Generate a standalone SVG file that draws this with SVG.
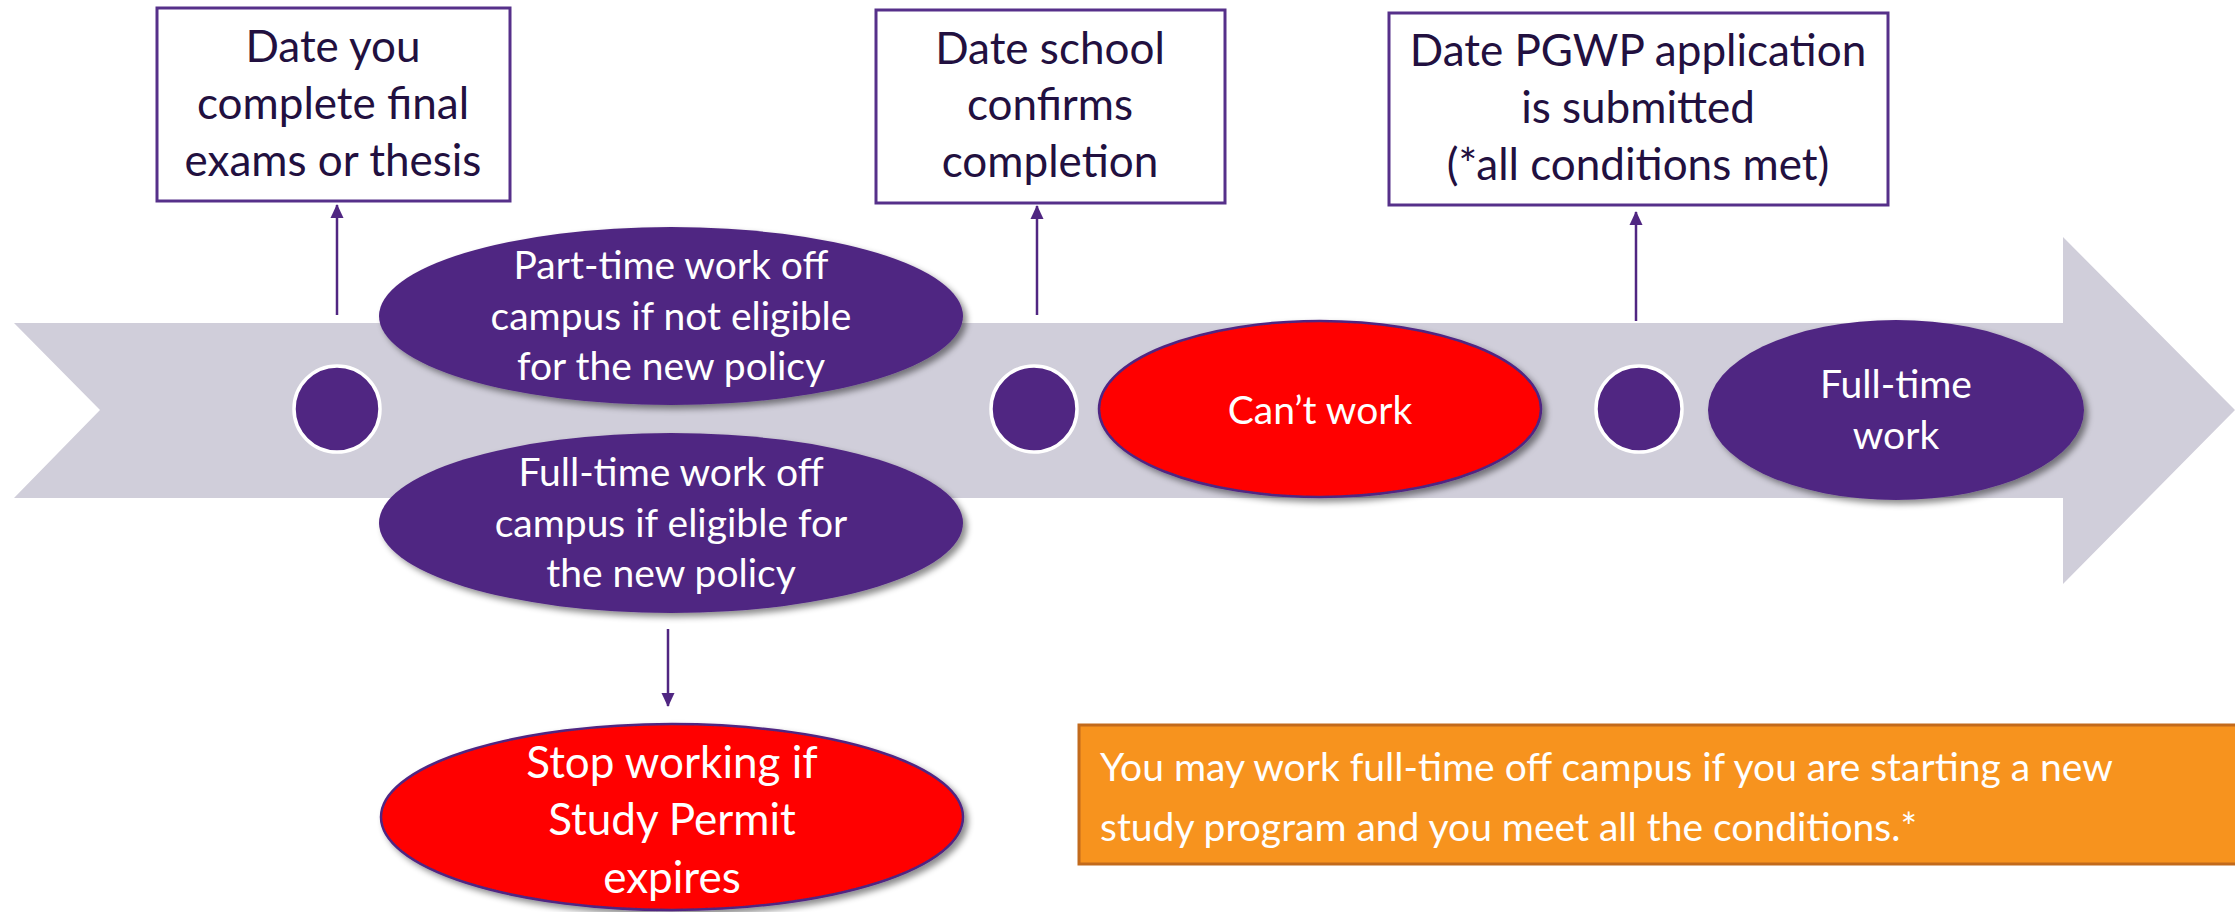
<svg xmlns="http://www.w3.org/2000/svg" width="2235" height="912" viewBox="0 0 2235 912">
<style>
.box{fill:#ffffff;stroke:#56308A;stroke-width:3}
.btxt{font-family:Lato,"Open Sans","Liberation Sans",sans-serif;font-size:44px;fill:#221040;text-anchor:middle}
.etxt{font-family:Lato,"Open Sans","Liberation Sans",sans-serif;font-size:39px;fill:#ffffff;text-anchor:middle}
.stxt{font-family:Lato,"Open Sans","Liberation Sans",sans-serif;font-size:44px;fill:#ffffff;text-anchor:middle}
.otxt{font-family:Lato,"Open Sans","Liberation Sans",sans-serif;font-size:39px;fill:#ffffff}
.purple{fill:#502682}
.red{fill:#FF0000;stroke:#502682;stroke-width:2.5}
.dot{fill:#502682;stroke:#ffffff;stroke-width:3.5}
.conn{stroke:#502682;stroke-width:2.5;fill:none}
</style>
<defs>
<filter id="sh" x="-10%" y="-10%" width="125%" height="130%">
<feDropShadow dx="4" dy="4" stdDeviation="3" flood-color="#000000" flood-opacity="0.45"/>
</filter>
<marker id="ah" markerWidth="14" markerHeight="14" refX="13" refY="7" orient="auto" markerUnits="userSpaceOnUse">
<path d="M0,0.5 L14,7 L0,13.5 Z" fill="#502682"/>
</marker>
</defs>

<g id="timeline">
<polygon points="14,323 2063,323 2063,237 2235,410 2063,584 2063,498 14,498 100,410" fill="#D0CEDA"/>
</g>

<g id="connectors">
<line class="conn" x1="337" y1="315" x2="337" y2="205" marker-end="url(#ah)"/>
<line class="conn" x1="1037" y1="315" x2="1037" y2="206" marker-end="url(#ah)"/>
<line class="conn" x1="1636" y1="321" x2="1636" y2="212" marker-end="url(#ah)"/>
<line class="conn" x1="668" y1="629" x2="668" y2="706" marker-end="url(#ah)"/>
</g>

<g id="box-final-exams">
<rect class="box" x="157" y="8" width="353" height="193"/>
<text class="btxt" x="333" y="62">Date you</text>
<text class="btxt" x="333" y="119">complete final</text>
<text class="btxt" x="333" y="176">exams or thesis</text>
</g>

<g id="box-school-confirms">
<rect class="box" x="876" y="10" width="349" height="193"/>
<text class="btxt" x="1050" y="64">Date school</text>
<text class="btxt" x="1050" y="120">confirms</text>
<text class="btxt" x="1050" y="177">completion</text>
</g>

<g id="box-pgwp">
<rect class="box" x="1389" y="13" width="499" height="192"/>
<text class="btxt" x="1638" y="66">Date PGWP application</text>
<text class="btxt" x="1638" y="123">is submitted</text>
<text class="btxt" x="1638" y="180">(*all conditions met)</text>
</g>

<g id="dot-1"><circle class="dot" cx="337" cy="409" r="43"/></g>
<g id="dot-2"><circle class="dot" cx="1034" cy="409" r="43"/></g>
<g id="dot-3"><circle class="dot" cx="1639" cy="409" r="43"/></g>

<g id="ellipse-part-time">
<ellipse class="purple" cx="671" cy="316" rx="292" ry="89" filter="url(#sh)"/>
<text class="etxt" x="671" y="279">Part-time work off</text>
<text class="etxt" x="671" y="330">campus if not eligible</text>
<text class="etxt" x="671" y="380">for the new policy</text>
</g>

<g id="ellipse-full-time-off">
<ellipse class="purple" cx="671" cy="523" rx="292" ry="90" filter="url(#sh)"/>
<text class="etxt" x="671" y="486">Full-time work off</text>
<text class="etxt" x="671" y="537">campus if eligible for</text>
<text class="etxt" x="671" y="587">the new policy</text>
</g>

<g id="ellipse-cant-work">
<ellipse class="red" cx="1320" cy="409" rx="221" ry="88" filter="url(#sh)"/>
<text class="etxt" x="1320" y="424">Can’t work</text>
</g>

<g id="ellipse-full-time-work">
<ellipse class="purple" cx="1896" cy="410" rx="188" ry="90" filter="url(#sh)"/>
<text class="etxt" x="1896" y="398">Full-time</text>
<text class="etxt" x="1896" y="449">work</text>
</g>

<g id="ellipse-stop-working">
<ellipse class="red" cx="672" cy="817" rx="291" ry="93" filter="url(#sh)"/>
<text class="stxt" x="672" y="778">Stop working if</text>
<text class="stxt" x="672" y="835">Study Permit</text>
<text class="stxt" x="672" y="893">expires</text>
</g>

<g id="note-box">
<rect x="1079" y="725" width="1160" height="139" fill="#F7931E" stroke="#C26A1C" stroke-width="3"/>
<text class="otxt" x="1100" y="781">You may work full-time off campus if you are starting a new</text>
<text class="otxt" x="1100" y="841">study program and you meet all the conditions.*</text>
</g>
</svg>
